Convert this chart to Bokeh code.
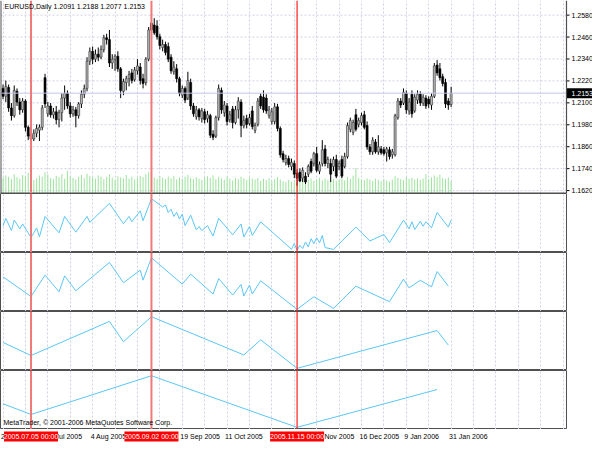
from bokeh.plotting import figure
from bokeh.layouts import column
from bokeh.models import Range1d, FixedTicker, Span, Label, ColumnDataSource
from bokeh.embed import file_html
from bokeh.resources import INLINE
from bokeh.core.properties import value

FONT = "Liberation Sans"

# ---------------- data ----------------
bar = list(range(-10, 151))  # 0 = 2005.07.05, 150 = 2006.01.31 (daily bars)
opens = [1.2179, 1.2136, 1.2184, 1.2072, 1.2030, 1.2163, 1.2104, 1.2062, 1.2110, 1.1966,
         1.1928, 1.1902, 1.1934, 1.1950, 1.1966, 1.2238, 1.2040, 1.2083, 1.2035, 1.2051,
         1.2008, 1.2046, 1.2126, 1.2152, 1.2083, 1.2040, 1.2062, 1.2030, 1.2094, 1.2147,
         1.2179, 1.2328, 1.2382, 1.2339, 1.2366, 1.2350, 1.2392, 1.2456, 1.2446, 1.2318,
         1.2339, 1.2355, 1.2286, 1.2163, 1.2211, 1.2232, 1.2264, 1.2227, 1.2275, 1.2296,
         1.2232, 1.2211, 1.2339, 1.2536, 1.2526, 1.2520, 1.2462, 1.2403, 1.2419, 1.2408,
         1.2350, 1.2270, 1.2286, 1.2232, 1.2142, 1.2179, 1.2126, 1.2211, 1.2083, 1.2024,
         1.2062, 1.2014, 1.2051, 1.2014, 1.2030, 1.1928, 1.1918, 1.2019, 1.2168, 1.2046,
         1.2083, 1.2008, 1.2067, 1.1992, 1.2062, 1.2104, 1.1976, 1.2014, 1.1987, 1.2056,
         1.1950, 1.1982, 1.2136, 1.2131, 1.2126, 1.2030, 1.1998, 1.1998, 1.2078, 1.1960,
         1.1822, 1.1774, 1.1795, 1.1752, 1.1768, 1.1715, 1.1720, 1.1688, 1.1699, 1.1710,
         1.1779, 1.1768, 1.1822, 1.1726, 1.1768, 1.1848, 1.1768, 1.1768, 1.1752, 1.1790,
         1.1752, 1.1790, 1.1752, 1.1806, 1.1955, 1.1939, 1.2035, 1.1982, 1.1992, 1.2035,
         1.1976, 1.1859, 1.1832, 1.1886, 1.1832, 1.1848, 1.1843, 1.1827, 1.1843, 1.1816,
         1.1816, 1.2019, 1.2110, 1.2099, 1.2152, 1.2056, 1.2147, 1.2056, 1.2115, 1.2147,
         1.2099, 1.2126, 1.2120, 1.2088, 1.2136, 1.2307, 1.2286, 1.2243, 1.2211, 1.2110,
         1.2091]
highs = [1.2200, 1.2222, 1.2200, 1.2099, 1.2195, 1.2179, 1.2126, 1.2126, 1.2120, 1.1976,
         1.1939, 1.1955, 1.1982, 1.1982, 1.2088, 1.2259, 1.2105, 1.2099, 1.2072, 1.2083,
         1.2062, 1.2152, 1.2195, 1.2168, 1.2104, 1.2083, 1.2078, 1.2104, 1.2168, 1.2200,
         1.2350, 1.2403, 1.2408, 1.2392, 1.2403, 1.2414, 1.2472, 1.2478, 1.2499, 1.2366,
         1.2366, 1.2382, 1.2296, 1.2232, 1.2248, 1.2275, 1.2286, 1.2296, 1.2339, 1.2318,
         1.2259, 1.2350, 1.2515, 1.2585, 1.2563, 1.2552, 1.2478, 1.2446, 1.2435, 1.2430,
         1.2366, 1.2328, 1.2312, 1.2243, 1.2195, 1.2190, 1.2270, 1.2232, 1.2099, 1.2083,
         1.2072, 1.2072, 1.2067, 1.2056, 1.2040, 1.1950, 1.2030, 1.2200, 1.2184, 1.2110,
         1.2099, 1.2056, 1.2083, 1.2083, 1.2131, 1.2120, 1.2030, 1.2035, 1.2040, 1.2083,
         1.1992, 1.2126, 1.2152, 1.2168, 1.2147, 1.2083, 1.2072, 1.2099, 1.2094, 1.1971,
         1.1838, 1.1816, 1.1811, 1.1795, 1.1784, 1.1736, 1.1742, 1.1747, 1.1720, 1.1763,
         1.1795, 1.1832, 1.1859, 1.1779, 1.1896, 1.1870, 1.1806, 1.1795, 1.1806, 1.1816,
         1.1784, 1.1811, 1.1827, 1.1992, 1.2019, 1.2008, 1.2067, 1.2019, 1.2046, 1.2056,
         1.1998, 1.1875, 1.1912, 1.1902, 1.1923, 1.1864, 1.1859, 1.1859, 1.1859, 1.1848,
         1.2040, 1.2126, 1.2126, 1.2179, 1.2168, 1.2126, 1.2168, 1.2147, 1.2168, 1.2163,
         1.2147, 1.2142, 1.2136, 1.2152, 1.2318, 1.2334, 1.2318, 1.2259, 1.2232, 1.2126,
         1.2188]
lows = [1.2120, 1.2104, 1.2051, 1.2003, 1.2019, 1.2083, 1.2035, 1.2046, 1.1944, 1.1896,
        1.1881, 1.1891, 1.1912, 1.1891, 1.1950, 1.2072, 1.2024, 1.2019, 1.2014, 1.1982,
        1.1966, 1.1998, 1.2062, 1.2067, 1.2019, 1.2024, 1.1966, 1.2014, 1.2072, 1.2126,
        1.2163, 1.2307, 1.2312, 1.2323, 1.2328, 1.2339, 1.2376, 1.2419, 1.2296, 1.2286,
        1.2275, 1.2270, 1.2126, 1.2142, 1.2168, 1.2190, 1.2206, 1.2216, 1.2254, 1.2200,
        1.2179, 1.2195, 1.2328, 1.2483, 1.2472, 1.2446, 1.2392, 1.2382, 1.2360, 1.2323,
        1.2259, 1.2254, 1.2211, 1.2136, 1.2126, 1.2099, 1.2115, 1.2062, 1.2024, 1.2008,
        1.2003, 1.1992, 1.1987, 1.1992, 1.1907, 1.1896, 1.1907, 1.2003, 1.2040, 1.2024,
        1.1976, 1.1992, 1.1960, 1.1982, 1.2014, 1.1912, 1.1960, 1.1960, 1.1976, 1.1955,
        1.1934, 1.1971, 1.2067, 1.2046, 1.2040, 1.2014, 1.1982, 1.1982, 1.1944, 1.1800,
        1.1774, 1.1758, 1.1747, 1.1731, 1.1688, 1.1646, 1.1667, 1.1667, 1.1656, 1.1694,
        1.1715, 1.1752, 1.1720, 1.1710, 1.1752, 1.1752, 1.1742, 1.1667, 1.1726, 1.1688,
        1.1731, 1.1688, 1.1742, 1.1795, 1.1939, 1.1923, 1.1944, 1.1966, 1.1976, 1.1955,
        1.1843, 1.1816, 1.1816, 1.1822, 1.1816, 1.1816, 1.1811, 1.1779, 1.1790, 1.1795,
        1.1806, 1.2008, 1.2072, 1.2088, 1.2040, 1.2035, 1.2019, 1.2046, 1.2094, 1.2083,
        1.2083, 1.2067, 1.2072, 1.2062, 1.2126, 1.2248, 1.2222, 1.2190, 1.2072, 1.2062,
        1.2077]
closes = [1.2136, 1.2190, 1.2072, 1.2030, 1.2168, 1.2104, 1.2062, 1.2110, 1.1966, 1.1918,
          1.1902, 1.1934, 1.1960, 1.1966, 1.2072, 1.2094, 1.2083, 1.2035, 1.2051, 1.2008,
          1.2046, 1.2126, 1.2152, 1.2083, 1.2040, 1.2062, 1.2030, 1.2094, 1.2147, 1.2179,
          1.2328, 1.2382, 1.2339, 1.2366, 1.2350, 1.2392, 1.2456, 1.2446, 1.2318, 1.2339,
          1.2355, 1.2286, 1.2168, 1.2216, 1.2232, 1.2254, 1.2222, 1.2280, 1.2302, 1.2222,
          1.2206, 1.2339, 1.2499, 1.2499, 1.2483, 1.2462, 1.2414, 1.2419, 1.2376, 1.2339,
          1.2275, 1.2296, 1.2232, 1.2152, 1.2179, 1.2115, 1.2222, 1.2083, 1.2040, 1.2062,
          1.2024, 1.2056, 1.2008, 1.2035, 1.1923, 1.1912, 1.2019, 1.2179, 1.2062, 1.2088,
          1.1998, 1.2035, 1.1992, 1.2062, 1.2110, 1.1976, 1.2003, 1.1982, 1.2019, 1.1971,
          1.1976, 1.2110, 1.2083, 1.2062, 1.2056, 1.2062, 1.2051, 1.2078, 1.1960, 1.1816,
          1.1790, 1.1795, 1.1763, 1.1774, 1.1710, 1.1688, 1.1672, 1.1731, 1.1667, 1.1752,
          1.1726, 1.1822, 1.1731, 1.1763, 1.1843, 1.1768, 1.1790, 1.1710, 1.1790, 1.1699,
          1.1768, 1.1699, 1.1806, 1.1976, 1.2003, 1.1992, 1.1955, 1.2003, 1.2030, 1.1966,
          1.1859, 1.1832, 1.1896, 1.1832, 1.1859, 1.1827, 1.1822, 1.1848, 1.1806, 1.1832,
          1.2030, 1.2110, 1.2088, 1.2158, 1.2062, 1.2104, 1.2040, 1.2131, 1.2147, 1.2099,
          1.2131, 1.2083, 1.2094, 1.2136, 1.2302, 1.2264, 1.2238, 1.2206, 1.2094, 1.2088,
          1.2153]
volumes = [38, 44, 41, 35, 47, 40, 36, 45, 42, 50,
           39, 33, 37, 44, 41, 52, 46, 38, 35, 43,
           40, 47, 36, 55, 42, 38, 34, 41, 45, 37,
           48, 43, 39, 36, 44, 41, 35, 40, 46, 38,
           33, 42, 39, 37, 45, 36, 41, 34, 38, 43,
           40, 47, 52, 44, 39, 36, 42, 38, 35, 41,
           37, 43, 34, 39, 36, 41, 45, 38, 35, 40,
           36, 33, 39, 42, 38, 44, 35, 41, 37, 34,
           40, 36, 32, 38, 35, 41, 37, 33, 39, 36,
           34, 38, 31, 36, 33, 37, 30, 35, 40, 34,
           30, 28, 33, 29, 31, 27, 32, 35, 30, 33,
           36, 31, 34, 38, 32, 36, 33, 30, 35, 31,
           34, 37, 32, 40, 36, 44, 62, 38, 35, 33,
           37, 34, 31, 36, 33, 30, 35, 32, 29, 34,
           42, 38, 35, 33, 40, 36, 38, 34, 37, 33,
           36, 47, 35, 39, 44, 40, 46, 38, 36, 39,
           30]

price_ticks = [1.1620, 1.1740, 1.1860, 1.1980, 1.2100, 1.2220, 1.2340, 1.2460, 1.2580]
grid_bars = [-10, -2, 6, 14, 22, 30, 38, 46, 54, 62, 70, 78, 86, 94, 102, 110, 118, 126,
             134, 142, 150, 158, 166, 174, 182, 190]
tick_bars = [-10, 6, 22, 38, 54, 70, 86, 102, 118, 134, 150]
tick_labels = ["21 Jun 2005", "13 Jul 2005", "4 Aug 2005", "26 Aug 2005", "19 Sep 2005",
               "11 Oct 2005", "2 Nov 2005", "24 Nov 2005", "16 Dec 2005", "9 Jan 2006",
               "31 Jan 2006"]
vline_bars = [0, 43, 95]
vline_labels = ["2005.07.05 00:00", "2005.09.02 00:00", "2005.11.15 00:00"]

# ZigZag indicators (four depths), pivots as (bar, price)
zz1_bars = [-10, -9, -7, -6, -4, -3, 0, 2, 3, 5, 10, 12, 16, 20, 21, 28, 33, 35, 36, 39, 40,
            43, 47, 48, 49, 50, 51, 52, 53, 54, 55, 57, 59, 60, 61, 63, 65, 67, 72, 75, 76,
            78, 79, 82, 93, 94, 95, 96, 97, 98, 99, 100, 101, 102, 103, 104, 105, 108, 116,
            121, 126, 128, 133, 135, 136, 137, 139, 140, 141, 143, 145, 149, 150]
zz1_vals = [1.2095, 1.2228, 1.2006, 1.2197, 1.2036, 1.2126, 1.1880, 1.2054, 1.1890, 1.2263,
            1.1965, 1.2263, 1.1977, 1.2263, 1.2156, 1.2500, 1.2130, 1.2263, 1.2167, 1.2363,
            1.2185, 1.2585, 1.2435, 1.2471, 1.2335, 1.2394, 1.2263, 1.2340, 1.2215, 1.2304,
            1.2095, 1.2287, 1.2019, 1.2078, 1.2006, 1.2095, 1.1906, 1.2228, 1.1929, 1.2126,
            1.1890, 1.2078, 1.1917, 1.2165, 1.1667, 1.1768, 1.1646, 1.1738, 1.1679, 1.1799,
            1.1709, 1.1858, 1.1768, 1.1876, 1.1781, 1.1917, 1.1697, 1.1663, 1.2068, 1.1817,
            1.1935, 1.1786, 1.2196, 1.2037, 1.2167, 1.2024, 1.2175, 1.2085, 1.2167, 1.2055,
            1.2334, 1.2069, 1.2197]
zz2_bars = [-10, 0, 5, 10, 12, 16, 28, 33, 39, 40, 43, 54, 57, 65, 67, 72, 75, 76, 78, 79,
            82, 95, 101, 108, 116, 128, 133, 135, 139, 143, 145, 149]
zz2_vals = [1.2237, 1.1880, 1.2268, 1.1966, 1.2255, 1.1984, 1.2500, 1.2130, 1.2358, 1.2177,
            1.2585, 1.2105, 1.2286, 1.1925, 1.2206, 1.1907, 1.2098, 1.1890, 1.2087, 1.1925,
            1.2165, 1.1646, 1.1876, 1.1663, 1.2068, 1.1786, 1.2196, 1.2037, 1.2175, 1.2055,
            1.2334, 1.2069]
zz3_bars = [-10, 0, 28, 33, 43, 76, 82, 95, 145, 149]
zz3_vals = [1.2117, 1.1880, 1.2500, 1.2130, 1.2585, 1.1890, 1.2165, 1.1646, 1.2334, 1.2069]
zz4_bars = [-10, 0, 43, 95, 145]
zz4_vals = [1.2075, 1.1880, 1.2585, 1.1646, 1.2334]

# ---------------- styling ----------------
BORDER = "#505050"
GRID = "#d0d0e4"
ZZ = "#5cc6f4"
FW = 566          # chart area width (px)
SCALE_W = 26      # price scale width (px)
X0, X1 = -10.9, 191.2
px = (X1 - X0) / FW   # bars per pixel

x_range = Range1d(X0, X1)


def panel(frame_h, y_range):
    p = figure(frame_width=FW, frame_height=frame_h, x_range=x_range, y_range=y_range,
               output_backend="svg", toolbar_location=None,
               x_axis_location=None, y_axis_location=None,
               min_border_left=0, min_border_right=SCALE_W,
               min_border_top=0, min_border_bottom=0)
    p.outline_line_color = BORDER
    p.outline_line_width = 1
    p.background_fill_color = "white"
    p.border_fill_color = "white"
    p.xgrid.ticker = FixedTicker(ticks=grid_bars)
    p.xgrid.grid_line_color = GRID
    p.xgrid.grid_line_dash = "2 2"
    p.ygrid.visible = False
    return p


# ---------- main price panel (chart + price scale in one frame) ----------
Y0, Y1 = 1.1604, 1.2660
main = figure(frame_width=FW + SCALE_W, frame_height=193,
              x_range=Range1d(X0, X0 + (FW + SCALE_W) * px), y_range=Range1d(Y0, Y1),
              output_backend="svg", toolbar_location=None,
              x_axis_location=None, y_axis_location=None,
              min_border_left=0, min_border_right=0, min_border_top=0, min_border_bottom=0)
main.outline_line_color = None
main.background_fill_color = "white"
main.border_fill_color = "white"
main.xgrid.ticker = FixedTicker(ticks=grid_bars)
main.xgrid.grid_line_color = GRID
main.xgrid.grid_line_dash = "2 2"
main.ygrid.visible = False
# horizontal grid (only across the chart area)
main.segment(x0=[X0] * len(price_ticks), y0=price_ticks, x1=[X1] * len(price_ticks), y1=price_ticks,
             line_color=GRID, line_width=1, line_dash="2 2")

# volumes
main.extra_y_ranges = {"vol": Range1d(0, 470)}
main.segment(x0=bar, y0=[0] * len(bar), x1=bar, y1=volumes, y_range_name="vol",
             line_color="#9ce49c", line_width=1)

# candles
src = ColumnDataSource(dict(x=bar, o=opens, h=highs, l=lows, c=closes))
up = dict(x=[], top=[], bottom=[])
dn = dict(x=[], top=[], bottom=[])
for b, o, c in zip(bar, opens, closes):
    d = up if c >= o else dn
    d["x"].append(b)
    d["top"].append(max(o, c))
    d["bottom"].append(min(o, c))
main.segment(x0="x", y0="h", x1="x", y1="l", source=src, line_color="black", line_width=1)
main.vbar(x=up["x"], top=up["top"], bottom=up["bottom"], width=0.72,
          fill_color="#b8b8b8", line_color="#333333", line_width=0.6)
main.vbar(x=dn["x"], top=dn["top"], bottom=dn["bottom"], width=0.72,
          fill_color="black", line_color="black", line_width=0.6)

# bid line (chart area only)
main.segment(x0=[X0], y0=[closes[-1]], x1=[X1], y1=[closes[-1]], line_color="#c4c4f0", line_width=1)

# vertical marker lines
for k, vb in enumerate(vline_bars):
    main.add_layout(Span(location=vb, dimension="height",
                         line_color="#f07878" if k < 2 else "#ff2020",
                         line_width=2 if k < 2 else 1.2))

# chart borders: left, right, bottom
main.add_layout(Span(location=X0, dimension="height", line_color=BORDER, line_width=2))
main.add_layout(Span(location=X1, dimension="height", line_color=BORDER, line_width=1.2))
main.segment(x0=[X0], y0=[Y0], x1=[X1], y1=[Y0], line_color=BORDER, line_width=2)

# price scale: tick marks, labels and bid box
main.segment(x0=[X1] * len(price_ticks), y0=price_ticks, x1=[X1 + 3 * px] * len(price_ticks),
             y1=price_ticks, line_color="black", line_width=1)
main.text(x=[X1] * len(price_ticks), y=price_ticks, text=["%.4f" % t for t in price_ticks],
          x_offset=5, text_align="left", text_baseline="middle", text_font=value(FONT),
          text_font_size="7px", text_color="black")
main.rect(x=[X1 + 13 * px], y=[closes[-1]], width=SCALE_W - 1, height=10,
          width_units="screen", height_units="screen", fill_color="black", line_color=None)
main.text(x=[X1], y=[closes[-1]], text=["%.4f" % closes[-1]], x_offset=5,
          text_align="left", text_baseline="middle", text_font=value(FONT),
          text_font_size="7px", text_color="white")

# title
main.add_layout(Label(x=X0, y=Y1, x_offset=4, y_offset=-2,
                      text="EURUSD,Daily  %.4f %.4f %.4f %.4f" % (opens[-1], highs[-1], lows[-1], closes[-1]),
                      text_font=FONT, text_font_size="7px", text_color="black",
                      text_baseline="top", text_align="left"))

# ---------- zigzag panels ----------
zz_range = (1.1607, 1.2680)
panels = []
for zb, zv in [(zz1_bars, zz1_vals), (zz2_bars, zz2_vals), (zz3_bars, zz3_vals), (zz4_bars, zz4_vals)]:
    sp = panel(59, Range1d(*zz_range))
    sp.line(zb, zv, line_color=ZZ, line_width=1)
    for k, vb in enumerate(vline_bars):
        sp.add_layout(Span(location=vb, dimension="height",
                           line_color="#f07878" if k < 2 else "#ff2020",
                           line_width=2 if k < 2 else 1.2))
    panels.append(sp)
panels[3].add_layout(Label(x=X0, y=zz_range[0], x_offset=3, y_offset=4,
                           text="MetaTrader, \u00a9 2001-2006 MetaQuotes Software Corp.",
                           text_font=FONT, text_font_size="7px", text_color="black",
                           text_baseline="bottom", text_align="left"))

# ---------- time scale strip ----------
strip = figure(frame_width=FW, frame_height=14, x_range=x_range, y_range=Range1d(0, 1),
               output_backend="svg", toolbar_location=None,
               x_axis_location=None, y_axis_location=None,
               min_border_left=0, min_border_right=SCALE_W, min_border_top=0, min_border_bottom=0)
strip.outline_line_color = None
strip.xgrid.visible = False
strip.ygrid.visible = False
strip.text(x=tick_bars, y=[0.5] * len(tick_bars), text=tick_labels, x_offset=-2,
           text_align="left", text_baseline="middle", text_font=value(FONT),
           text_font_size="7px", text_color="black")
strip.rect(x=vline_bars, y=[0.5] * 3, width=54, height=0.72, width_units="screen",
           fill_color="#ff0000", line_color=None)
strip.text(x=vline_bars, y=[0.5] * 3, text=vline_labels, text_align="center",
           text_baseline="middle", text_font=value(FONT), text_font_size="7px",
           text_color="white")

layout = column(main, *panels, strip, spacing=0)
open("out.html", "w").write(file_html(layout, INLINE, title="EURUSD,Daily"))
